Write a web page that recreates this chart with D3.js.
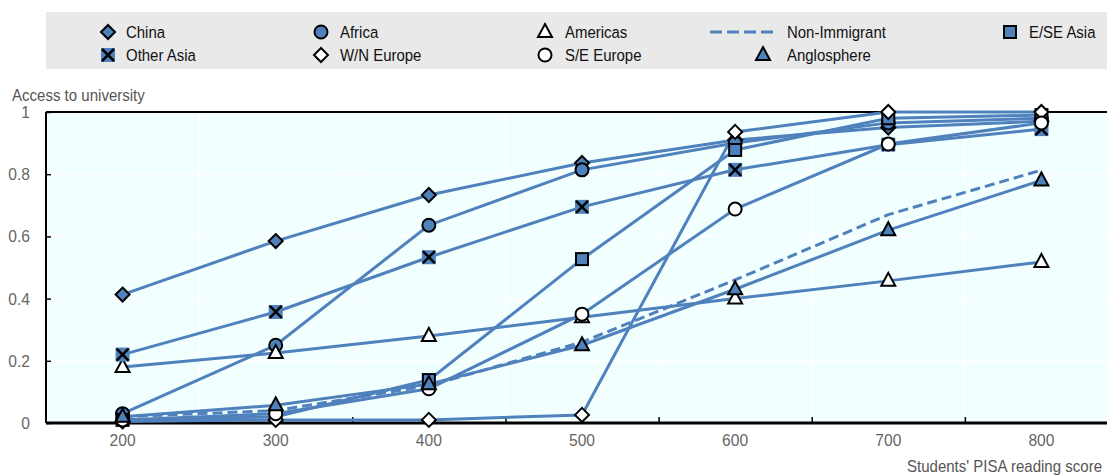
<!DOCTYPE html>
<html><head><meta charset="utf-8">
<script src="https://cdn.jsdelivr.net/npm/d3@7"></script>
<style>
html,body{margin:0;padding:0;background:#fff;}
svg{display:block;font-family:"Liberation Sans Narrow","Arial Narrow","Liberation Sans",Arial,sans-serif;}
</style></head><body>
<svg id="chart" width="1107" height="476"></svg>
<script>
const scores = [200, 300, 400, 500, 600, 700, 800];
const xTicks = [250, 350, 450, 550, 650, 750, 850];
const yTicks = [0, 0.2, 0.4, 0.6, 0.8, 1];

const china       = [0.413, 0.585, 0.733, 0.836, 0.910, 0.950, 0.970];
const africa      = [0.030, 0.250, 0.636, 0.814, 0.900, 0.965, 0.980];
const americas    = [0.180, 0.225, 0.280, 0.340, 0.400, 0.457, 0.518];
const nonImmigrant= [0.020, 0.040, 0.120, 0.260, 0.460, 0.670, 0.813];
const eseAsia     = [0.010, 0.020, 0.138, 0.527, 0.878, 0.980, 0.990];
const otherAsia   = [0.220, 0.357, 0.533, 0.695, 0.814, 0.895, 0.945];
const wnEurope    = [0.005, 0.010, 0.010, 0.026, 0.936, 1.000, 1.000];
const seEurope    = [0.010, 0.030, 0.110, 0.350, 0.688, 0.897, 0.965];
const anglosphere = [0.020, 0.057, 0.125, 0.250, 0.430, 0.620, 0.780];

const series = [
  {name:"China", values:china, marker:"diamond", fill:true},
  {name:"Africa", values:africa, marker:"circle", fill:true},
  {name:"Americas", values:americas, marker:"triangle", fill:false},
  {name:"Non-Immigrant", values:nonImmigrant, marker:"none", dashed:true},
  {name:"E/SE Asia", values:eseAsia, marker:"square", fill:true},
  {name:"Other Asia", values:otherAsia, marker:"xsquare", fill:true},
  {name:"W/N Europe", values:wnEurope, marker:"diamond", fill:false},
  {name:"S/E Europe", values:seEurope, marker:"circle", fill:false},
  {name:"Anglosphere", values:anglosphere, marker:"triangle", fill:true}
];

const blue = "#4f81bd";
const svg = d3.select("#chart");
const pLeft = 46, pTop = 112, pBottom = 423, pRight = 1118;
const x = d3.scaleLinear().domain([150, 850]).range([pLeft, pRight]);
const y = d3.scaleLinear().domain([0, 1]).range([pBottom, pTop]);

// condensed text helper
function ctext(g, tx, ty, str, size, fill, anchor, sx) {
  return g.append("text")
    .attr("transform", `translate(${tx},${ty}) scale(${sx || 0.9},1)`)
    .attr("text-anchor", anchor || "start")
    .attr("font-size", size).attr("fill", fill).text(str);
}

// legend background
svg.append("rect").attr("x", 46).attr("y", 12).attr("width", 1107 - 46).attr("height", 57).attr("fill", "#e9e9e9");

// plot background
svg.append("rect").attr("x", pLeft).attr("y", pTop).attr("width", pRight - pLeft).attr("height", pBottom - pTop).attr("fill", "#f2ffff");

// gridlines
svg.append("g").selectAll("line").data(yTicks.filter(d => d > 0 && d < 1)).join("line")
  .attr("x1", pLeft).attr("x2", pRight).attr("y1", d => y(d)).attr("y2", d => y(d))
  .attr("stroke", "#fff").attr("stroke-width", 1.5);
svg.append("g").selectAll("line").data(xTicks).join("line")
  .attr("x1", d => x(d)).attr("x2", d => x(d)).attr("y1", pTop).attr("y2", pBottom)
  .attr("stroke", "#fff").attr("stroke-width", 1.5);

// axes
const xAxis = d3.axisBottom(x).tickValues(xTicks).tickSize(-6).tickFormat("");
const gx = svg.append("g").attr("transform", `translate(0,${pBottom})`).call(xAxis);
gx.select(".domain").remove();
gx.selectAll(".tick line").attr("stroke", "#000").attr("stroke-width", 1.5);

const xl = svg.append("g");
scores.forEach(d => ctext(xl, x(d), 446, d, 17, "#666", "middle", 0.92));

const yAxis = d3.axisLeft(y).tickValues(yTicks).tickSize(-5).tickFormat("");
const gy = svg.append("g").attr("transform", `translate(${pLeft},0)`).call(yAxis);
gy.select(".domain").remove();
gy.selectAll(".tick line").attr("stroke", "#000").attr("stroke-width", 1.5);
const yl = svg.append("g");
yTicks.forEach(d => ctext(yl, 30, y(d) + 6, d === 0 ? "0" : d === 1 ? "1" : d3.format(".1f")(d), 17, "#666", "end", 0.92));

// frame lines
svg.append("line").attr("x1", pLeft).attr("x2", 1107).attr("y1", pTop).attr("y2", pTop).attr("stroke", "#000").attr("stroke-width", 2);
svg.append("line").attr("x1", pLeft).attr("x2", pLeft).attr("y1", pTop).attr("y2", pBottom).attr("stroke", "#000").attr("stroke-width", 2);
svg.append("line").attr("x1", pLeft).attr("x2", 1107).attr("y1", pBottom).attr("y2", pBottom).attr("stroke", "#000").attr("stroke-width", 3);

// titles
ctext(svg, 12, 101, "Access to university", 16, "#555", "start", 0.94);
ctext(svg, 1102, 472, "Students' PISA reading score", 16, "#555", "end", 0.94);

// lines
const line = d3.line().x((d, i) => x(scores[i])).y(d => y(d));
const plot = svg.append("g");
series.forEach(s => {
  plot.append("path").datum(s.values).attr("d", line)
    .attr("fill", "none").attr("stroke", blue).attr("stroke-width", 3)
    .attr("stroke-dasharray", s.dashed ? "10,5" : null);
});

function drawMarker(g, type, fill, cx, cy) {
  const f = fill ? blue : "#fff";
  let el;
  if (type === "diamond") {
    el = g.append("path").attr("d", `M${cx},${cy-7}L${cx+7},${cy}L${cx},${cy+7}L${cx-7},${cy}Z`);
  } else if (type === "circle") {
    el = g.append("circle").attr("cx", cx).attr("cy", cy).attr("r", 6.5);
  } else if (type === "triangle") {
    el = g.append("path").attr("d", `M${cx},${cy-8}L${cx+7},${cy+5}L${cx-7},${cy+5}Z`);
  } else if (type === "square") {
    el = g.append("rect").attr("x", cx-6).attr("y", cy-6).attr("width", 12).attr("height", 12);
  } else if (type === "xsquare") {
    g.append("rect").attr("x", cx-7).attr("y", cy-7).attr("width", 14).attr("height", 14).attr("fill", blue);
    g.append("path").attr("d", `M${cx-6},${cy-6}L${cx+6},${cy+6}M${cx+6},${cy-6}L${cx-6},${cy+6}`)
      .attr("stroke", "#000").attr("stroke-width", 2.5);
    return;
  } else return;
  el.attr("fill", f).attr("stroke", "#000").attr("stroke-width", 2);
}

series.forEach(s => {
  const g = plot.append("g");
  s.values.forEach((v, i) => drawMarker(g, s.marker, s.fill, x(scores[i]), y(v)));
});

// legend
const legendPos = [
  {sx:108, tx:126, y:32}, {sx:321, tx:340, y:32}, {sx:545, tx:565, y:32},
  {sx:742, tx:787, y:32}, {sx:1010, tx:1029, y:32},
  {sx:108, tx:126, y:55}, {sx:321, tx:340, y:55}, {sx:545, tx:565, y:55},
  {sx:763, tx:787, y:55}
];
const lg = svg.append("g");
series.forEach((s, i) => {
  const p = legendPos[i];
  if (s.dashed) {
    lg.append("line").attr("x1", 710).attr("x2", 773).attr("y1", p.y).attr("y2", p.y)
      .attr("stroke", blue).attr("stroke-width", 3).attr("stroke-dasharray", "12,5");
  } else {
    drawMarker(lg, s.marker, s.fill, p.sx, p.y);
  }
  ctext(lg, p.tx, p.y + 6, s.name, 17, "#111", "start", 0.88);
});
</script>
</body></html>
